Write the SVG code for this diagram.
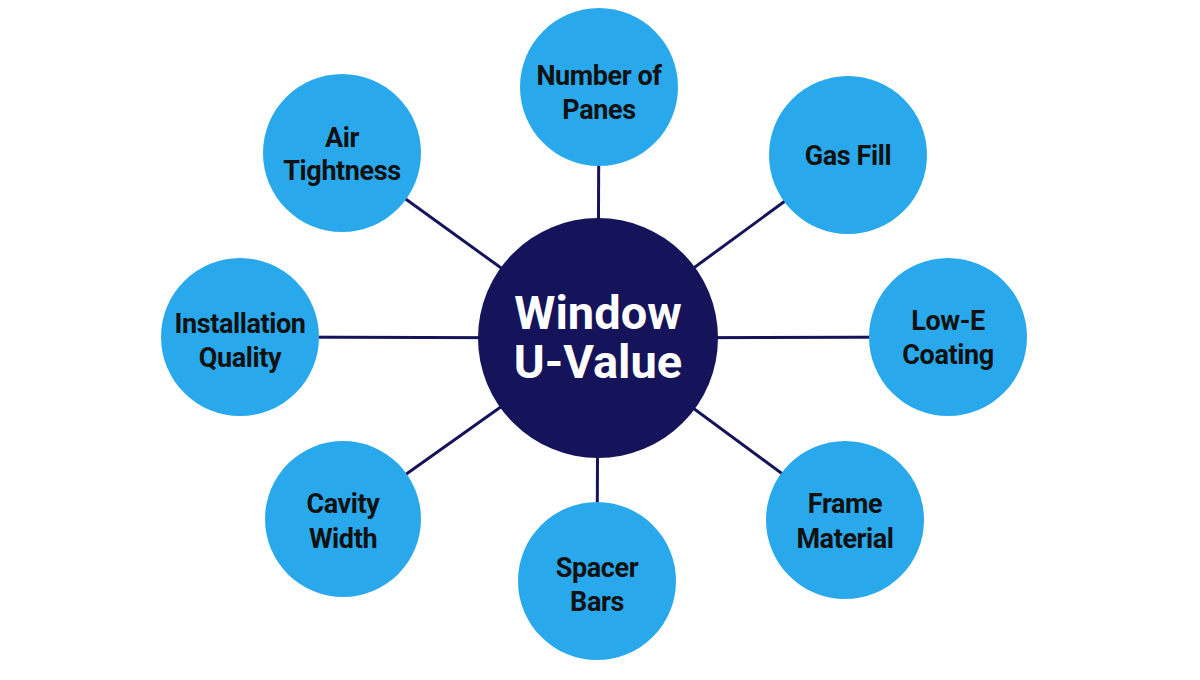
<svg xmlns="http://www.w3.org/2000/svg" width="1200" height="680" viewBox="0 0 1200 680">
<style>
.edge{stroke:#15145a;stroke-width:3;fill:none}
.outer{fill:#29a9ec}
.hub{fill:#15145a}
.lbl{font-family:Roboto,"Liberation Sans",sans-serif;font-weight:700;font-size:27px;fill:#111111;text-anchor:middle;letter-spacing:-0.4px}
.hubl{font-family:Roboto,"Liberation Sans",sans-serif;font-weight:700;font-size:47px;fill:#ffffff;text-anchor:middle}
</style>
<rect width="1200" height="680" fill="#ffffff"/>
<g id="connectors">
<line class="edge" x1="598" y1="338" x2="599" y2="87"/>
<line class="edge" x1="598" y1="338" x2="848" y2="155"/>
<line class="edge" x1="598" y1="338" x2="948" y2="337"/>
<line class="edge" x1="598" y1="338" x2="845" y2="520"/>
<line class="edge" x1="598" y1="338" x2="597" y2="581"/>
<line class="edge" x1="598" y1="338" x2="343" y2="519"/>
<line class="edge" x1="598" y1="338" x2="240" y2="337"/>
<line class="edge" x1="598" y1="338" x2="342" y2="153"/>
</g>
<g id="node-panes"><circle class="outer" cx="599" cy="87" r="79"/><text class="lbl" x="599" y="85">Number of</text><text class="lbl" x="599" y="119">Panes</text></g>
<g id="node-gas"><circle class="outer" cx="848" cy="155" r="79"/><text class="lbl" x="848" y="165">Gas Fill</text></g>
<g id="node-lowe"><circle class="outer" cx="948" cy="337" r="79"/><text class="lbl" x="948" y="330">Low-E</text><text class="lbl" x="948" y="364">Coating</text></g>
<g id="node-frame"><circle class="outer" cx="845" cy="520" r="79"/><text class="lbl" x="845" y="513">Frame</text><text class="lbl" x="845" y="548">Material</text></g>
<g id="node-spacer"><circle class="outer" cx="597" cy="581" r="79"/><text class="lbl" x="597" y="577">Spacer</text><text class="lbl" x="597" y="611">Bars</text></g>
<g id="node-cavity"><circle class="outer" cx="343" cy="519" r="78"/><text class="lbl" x="343" y="513">Cavity</text><text class="lbl" x="343" y="548">Width</text></g>
<g id="node-install"><circle class="outer" cx="240" cy="337" r="79"/><text class="lbl" x="240" y="333">Installation</text><text class="lbl" x="240" y="367">Quality</text></g>
<g id="node-air"><circle class="outer" cx="342" cy="153" r="79"/><text class="lbl" x="342" y="147">Air</text><text class="lbl" x="342" y="180">Tightness</text></g>
<g id="node-hub"><circle class="hub" cx="598" cy="338" r="120"/><text class="hubl" x="598" y="329">Window</text><text class="hubl" x="598" y="378">U-Value</text></g>
</svg>
